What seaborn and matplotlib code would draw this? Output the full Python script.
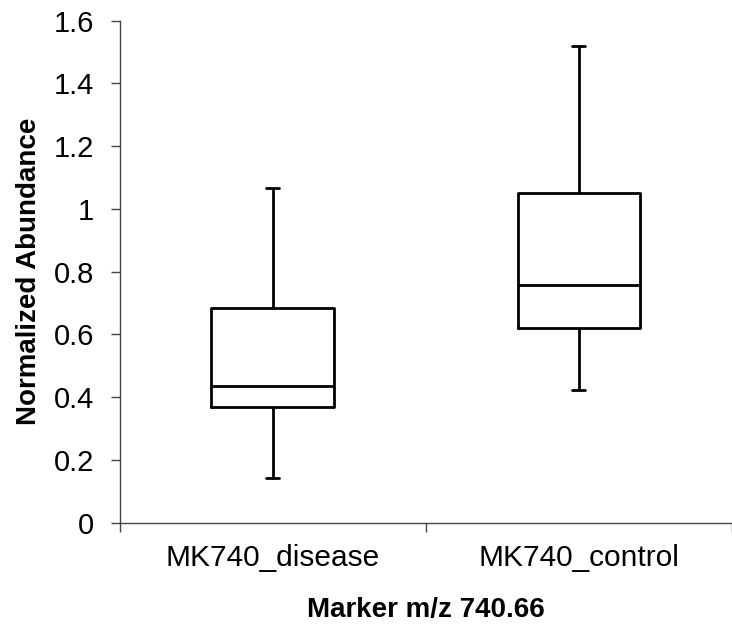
import matplotlib
matplotlib.use("Agg")
import matplotlib.pyplot as plt
from matplotlib.ticker import FuncFormatter, FixedLocator
import seaborn as sns
import pandas as pd

# Five-number summary for each group: min, Q1, median, Q3, max
groups = ["MK740_disease", "MK740_control"]
disease_summary = [0.141, 0.370, 0.437, 0.683, 1.066]
control_summary = [0.422, 0.620, 0.758, 1.050, 1.519]
y_ticks = [0, 0.2, 0.4, 0.6, 0.8, 1.0, 1.2, 1.4, 1.6]

df = pd.DataFrame({
    "group": [groups[0]] * len(disease_summary) + [groups[1]] * len(control_summary),
    "value": disease_summary + control_summary,
})

sns.set_theme(style="ticks")
plt.rcParams["font.family"] = ["Liberation Sans", "DejaVu Sans"]
plt.rcParams["text.color"] = "black"
plt.rcParams["axes.labelcolor"] = "black"
plt.rcParams["xtick.color"] = "black"
plt.rcParams["ytick.color"] = "black"

fig = plt.figure(figsize=(7.32, 6.37), dpi=100)
ax = fig.add_axes([0.1633, 0.1794, 0.8367, 0.7881])

sns.boxplot(
    data=df, x="group", y="value", order=groups, ax=ax,
    whis=(0, 100), width=0.4, fill=False, color="black", linecolor="black",
    linewidth=2.0, capwidths=0.042,
)

ax.set_ylim(0, 1.6)
ax.set_xlim(-0.5, 1.469)
ax.yaxis.set_major_locator(FixedLocator(y_ticks))
ax.yaxis.set_major_formatter(FuncFormatter(lambda v, p: f"{v:g}"))

# Category ticks sit between groups; labels are centred under each box
ax.set_xticks([0, 1])
ax.set_xticklabels(groups)
ax.set_xticks([-0.5, 0.5, 1.5], minor=True)
ax.tick_params(axis="x", which="major", length=0, pad=15, labelsize=21.5)
ax.tick_params(axis="x", which="minor", length=6.5, width=1.0, color="#444444")
ax.tick_params(axis="y", length=6.5, width=1.0, color="#444444", pad=12, labelsize=21)

for side in ["top", "right"]:
    ax.spines[side].set_visible(False)
for side in ["left", "bottom"]:
    ax.spines[side].set_linewidth(1.0)
    ax.spines[side].set_color("#444444")

ax.set_xlabel("Marker m/z 740.66", fontsize=20, fontweight="bold", labelpad=18)
ax.set_ylabel("Normalized Abundance", fontsize=20, fontweight="bold", labelpad=8)

fig.savefig("out.png", dpi=100)
